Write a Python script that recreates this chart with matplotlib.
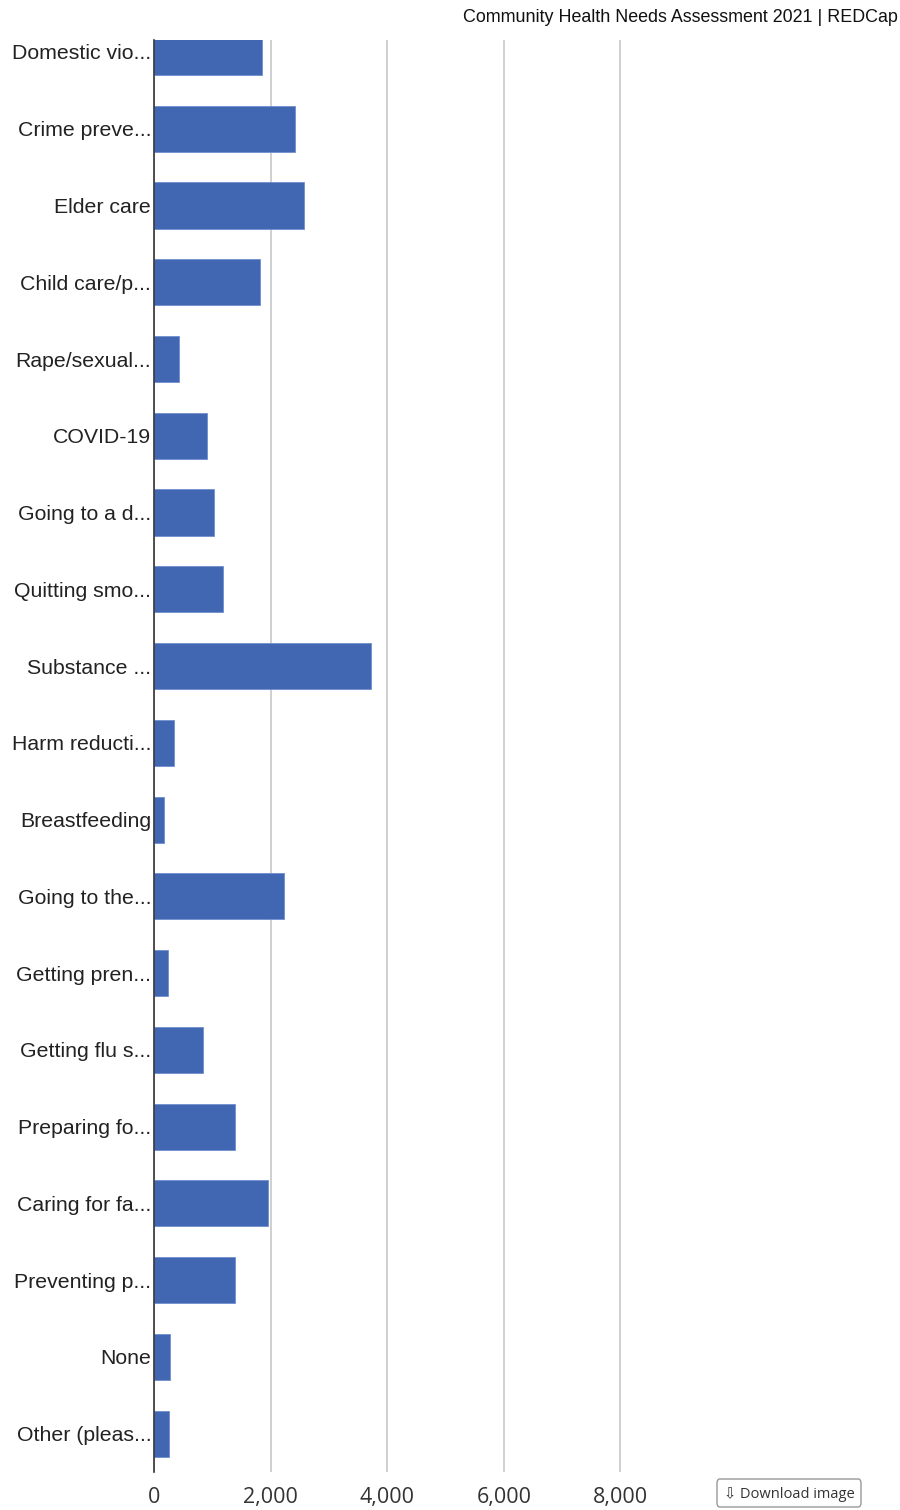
import matplotlib
matplotlib.use("Agg")
import matplotlib.pyplot as plt
from matplotlib.patches import FancyBboxPatch

categories = ["Domestic vio...", "Crime preve...", "Elder care", "Child care/p...",
              "Rape/sexual...", "COVID-19", "Going to a d...", "Quitting smo...",
              "Substance ...", "Harm reducti...", "Breastfeeding", "Going to the...",
              "Getting pren...", "Getting flu s...", "Preparing fo...", "Caring for fa...",
              "Preventing p...", "None", "Other (pleas..."]
values = [1846, 2423, 2577, 1818, 429, 910, 1029, 1184, 3714, 337, 166, 2230,
          240, 840, 1390, 1955, 1390, 274, 257]
xticks = [0, 2000, 4000, 6000, 8000]
title = "Community Health Needs Assessment 2021 | REDCap"

W, H = 900, 1510
fig = plt.figure(figsize=(W / 100, H / 100), dpi=100)
left, right, top, bottom = 154, 737, 40, 1472
ax = fig.add_axes([left / W, 1 - bottom / H, (right - left) / W, (bottom - top) / H])

y = list(range(len(categories)))
ax.barh(y, values, height=0.6, color="#4267B2", edgecolor="#6f8fd0", linewidth=0.6, zorder=3)
ax.set_ylim(len(categories) - 0.5, -0.156)
ax.set_xlim(0, 10000)
ax.set_yticks(y)
ax.set_yticklabels(categories, fontsize=15.3, color="#222222", family=["Liberation Sans", "DejaVu Sans"])
ax.set_xticks(xticks)
ax.set_xticklabels([f"{v:,}" for v in xticks], fontsize=15.5, color="#333333", family=["Open Sans", "DejaVu Sans"])
ax.tick_params(axis="y", length=0, pad=2)
ax.tick_params(axis="x", length=0, pad=11)
ax.grid(axis="x", color="#cccccc", linewidth=1.3, zorder=0)
for s in ["top", "right", "bottom"]:
    ax.spines[s].set_visible(False)
ax.spines["left"].set_color("#333333")
ax.spines["left"].set_linewidth(1.2)
ax.spines["left"].set_zorder(4)

fig.text(898 / W, 1 - 18 / H, title, ha="right", va="center", fontsize=12.9,
         color="#111111", family=["Liberation Sans", "DejaVu Sans"])

# download button
bx0, by0, bw, bh = 717, 1479, 144, 28
btn = FancyBboxPatch((bx0 / W, 1 - (by0 + bh) / H), bw / W, bh / H,
                     boxstyle="round,pad=0,rounding_size=0.003", transform=fig.transFigure,
                     facecolor="white", edgecolor="#999999", linewidth=1.0)
fig.patches.append(btn)
fig.text((bx0 + bw / 2) / W, 1 - (by0 + bh / 2 + 2) / H, "\u21e9 Download image", ha="center", va="center",
         fontsize=10.5, color="#333333", family=["Open Sans", "DejaVu Sans"])

fig.savefig("out.png", dpi=100, facecolor="white")
